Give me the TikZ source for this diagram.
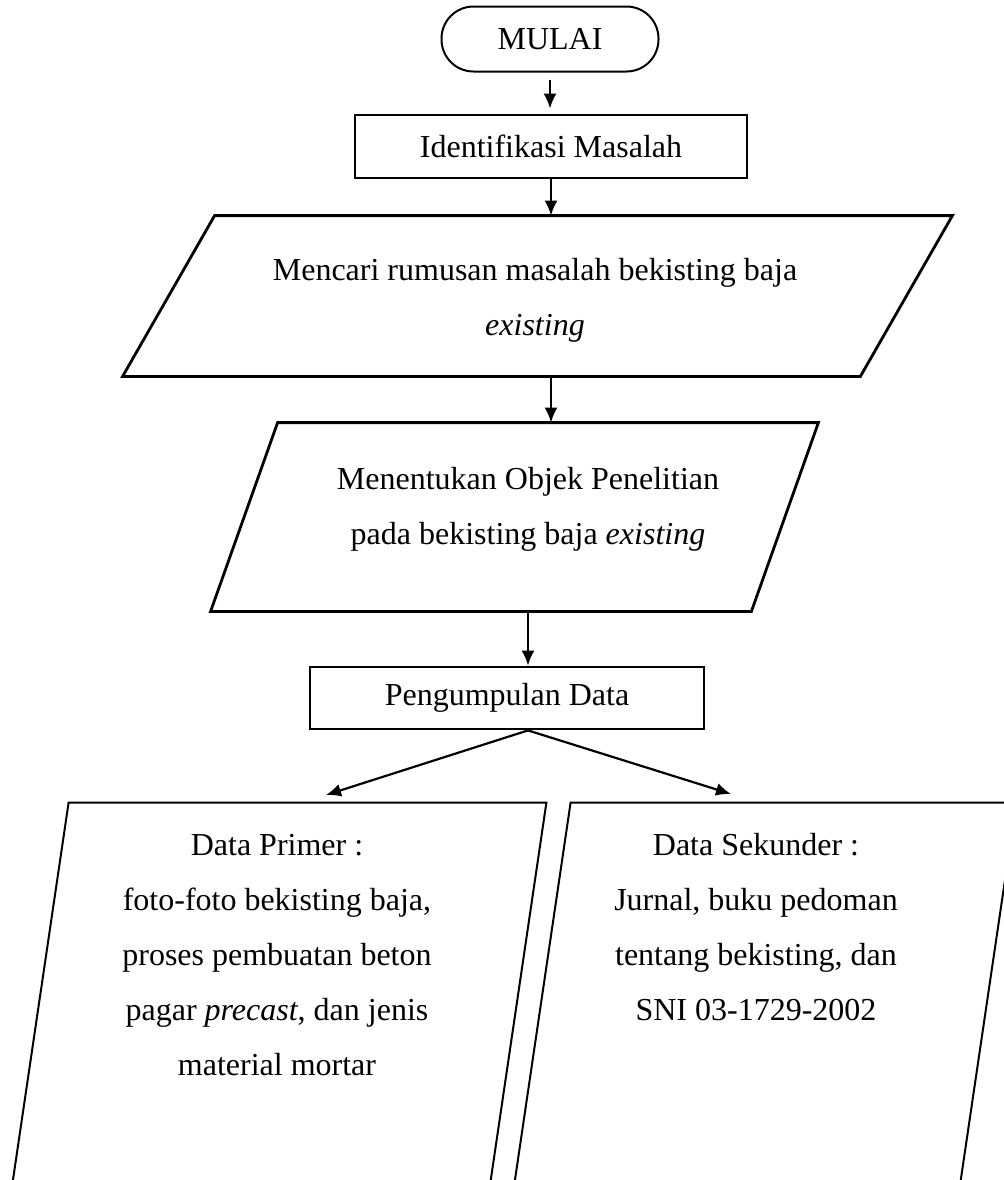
\documentclass[tikz,border=0pt]{standalone}
\usepackage{fontspec}
\setmainfont{Liberation Serif}
\usetikzlibrary{arrows.meta}

\begin{document}
\begin{tikzpicture}[x=0.5pt,y=-0.5pt,
  every node/.style={font=\fontsize{16}{27.5}\selectfont},
  terminal/.style={rectangle,rounded corners=16pt,draw,line width=1pt,minimum width=108.5pt,minimum height=32.5pt,inner sep=0pt},
  process/.style={rectangle,draw,line width=1.4pt,minimum height=31.5pt,inner sep=0pt},
  iobox/.style={rectangle,inner sep=0pt},
  txt/.style={align=center,inner sep=0pt},
  flow/.style={-{Latex[length=7.5pt,width=6.5pt]},line width=1.1pt}]

\useasboundingbox (0,0) rectangle (1004,1180);

\node [terminal] (mulai) at (550,39) {MULAI};
\node [process,minimum width=196pt] (ident) at (551,146.5) {Identifikasi Masalah};

\node [iobox,minimum width=414.5pt,minimum height=80pt] (rumusan) at (537.5,296) {};
\draw [line width=1.4pt] ([xshift=46pt]rumusan.north west) -- (rumusan.north east) -- ([xshift=-46pt]rumusan.south east) -- (rumusan.south west) -- cycle;
\node [txt] (rumusantext) at (535,300) {Mencari rumusan masalah bekisting baja\\\textit{existing}};

\node [iobox,minimum width=303.5pt,minimum height=94pt] (objek) at (514.5,517) {};
\draw [line width=1.4pt] ([xshift=33.5pt]objek.north west) -- (objek.north east) -- ([xshift=-33.5pt]objek.south east) -- (objek.south west) -- cycle;
\node [txt] (objektext) at (528,509) {Menentukan Objek Penelitian\\pada bekisting baja \textit{existing}};

\node [process,minimum width=197pt,minimum height=31pt] (data) at (507,698) {Pengumpulan Data};

\node [iobox,minimum width=271pt,minimum height=220pt] (primer) at (275,1023) {};
\draw [line width=1pt] ([xshift=32.5pt]primer.north west) -- (primer.north east) -- ([xshift=-32.5pt]primer.south east) -- (primer.south west) -- cycle;
\node [txt] (primertext) at (277,955) {Data Primer :\\foto-foto bekisting baja,\\proses pembuatan beton\\pagar \textit{precast}, dan jenis\\material mortar};

\node [iobox,minimum width=255pt,minimum height=220pt] (sekunder) at (761,1023) {};
\draw [line width=1pt] ([xshift=32.5pt]sekunder.north west) -- (sekunder.north east) -- ([xshift=-32.5pt]sekunder.south east) -- (sekunder.south west) -- cycle;
\node [txt] (sekundertext) at (756,927.5) {Data Sekunder :\\Jurnal, buku pedoman\\tentang bekisting, dan\\SNI 03-1729-2002};

\coordinate (tipL) at (326,795);
\coordinate (tipR) at (731,794);

\draw [flow,shorten <=3.5pt,shorten >=2.5pt] (mulai.south) -- (mulai.south |- ident.north);
\draw [flow] (ident.south) -- (ident.south |- rumusan.north);
\draw [flow] (rumusan.south -| ident) -- (objek.north -| ident);
\draw [flow] (objek.south -| objektext) -- (data.north -| objektext);
\draw [flow] (data.south -| objektext) -- (tipL);
\draw [flow] (data.south -| objektext) -- (tipR);

\end{tikzpicture}
\end{document}
